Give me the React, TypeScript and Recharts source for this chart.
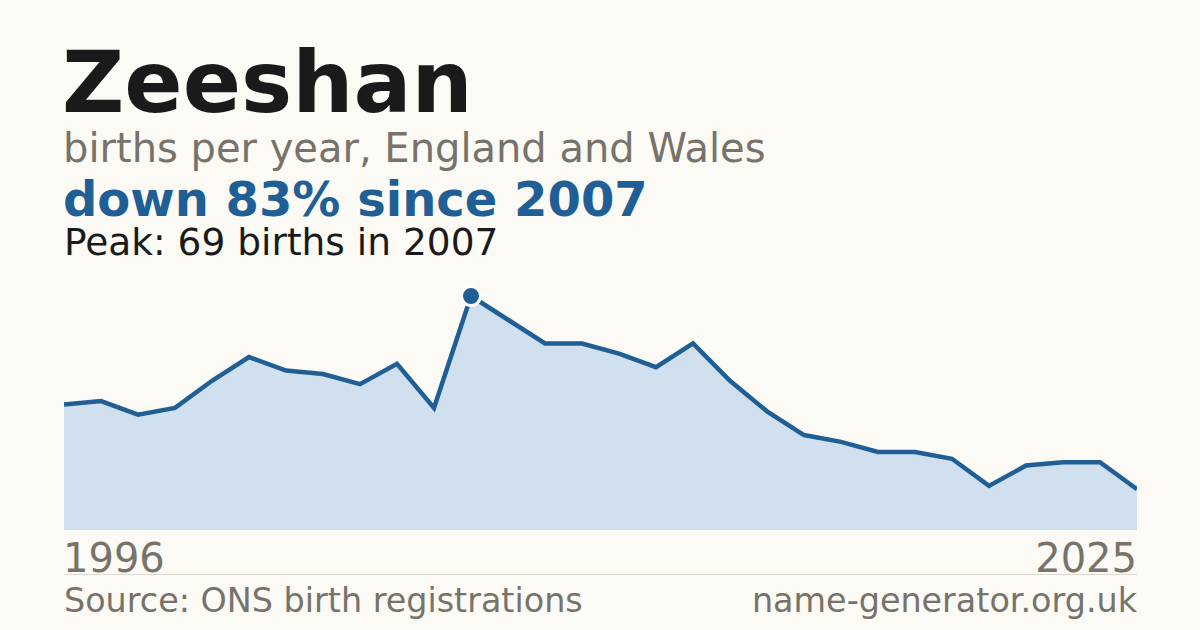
import { AreaChart, Area, XAxis, YAxis, ReferenceLine } from "recharts";

const years = [
  1996, 1997, 1998, 1999, 2000, 2001, 2002, 2003, 2004, 2005, 2006, 2007, 2008, 2009, 2010,
  2011, 2012, 2013, 2014, 2015, 2016, 2017, 2018, 2019, 2020, 2021, 2022, 2023, 2024, 2025,
];
const births = [
  37, 38, 34, 36, 44, 51, 47, 46, 43, 49, 36, 69, 62, 55, 55,
  52, 48, 55, 44, 35, 28, 26, 23, 23, 21, 13, 19, 20, 20, 12,
];
const peakYear = 2007;
const peakValue = 69;

const data = years.map((year, i) => ({ year, births: births[i] }));

const FONT = "'DejaVu Sans', sans-serif";
const BLUE = "#1f5f96";
const GREY = "#77736b";

// only the peak year gets a marker
function PeakDot(props: any) {
  const { cx, cy, payload, index } = props;
  if (!payload || payload.year !== peakYear) return <g key={index} />;
  return <circle key={index} cx={cx} cy={cy} r={9.5} fill={BLUE} stroke="#ffffff" strokeWidth={3} />;
}

export default function App() {
  return (
    <div
      style={{
        position: "fixed",
        top: 0,
        left: 0,
        width: 1200,
        height: 630,
        background: "#fbfaf5",
        fontFamily: FONT,
        overflow: "hidden",
      }}
    >
      <div style={{ position: "absolute", left: 62, top: 39, fontSize: 86, fontWeight: 700, color: "#1a1a1a", lineHeight: "86px", whiteSpace: "nowrap" }}>
        Zeeshan
      </div>
      <div style={{ position: "absolute", left: 63, top: 126, fontSize: 40, color: GREY, lineHeight: "44px", whiteSpace: "nowrap" }}>
        births per year, England and Wales
      </div>
      <div style={{ position: "absolute", left: 63, top: 174.5, fontSize: 48, fontWeight: 700, color: BLUE, lineHeight: "48px", whiteSpace: "nowrap" }}>
        down 83% since 2007
      </div>
      <div style={{ position: "absolute", left: 64, top: 223, fontSize: 37.5, color: "#1a1a1a", lineHeight: "38px", whiteSpace: "nowrap" }}>
        Peak: 69 births in 2007
      </div>

      <div style={{ position: "absolute", left: 64, top: 286 }}>
        <AreaChart width={1073} height={244} data={data} margin={{ top: 10, right: 0, bottom: 0, left: 0 }}>
          <XAxis dataKey="year" type="number" domain={["dataMin", "dataMax"]} hide />
          <YAxis domain={[0, peakValue]} hide />
          <ReferenceLine y={0} stroke="#dcd9d0" strokeWidth={1} />
          <Area
            type="linear"
            dataKey="births"
            stroke={BLUE}
            strokeWidth={4.5}
            fill="#d0e0ef"
            fillOpacity={1}
            dot={PeakDot}
            activeDot={false}
            isAnimationActive={false}
          />
        </AreaChart>
      </div>

      <div style={{ position: "absolute", left: 63, top: 536, fontSize: 40, color: GREY, lineHeight: "44px" }}>
        1996
      </div>
      <div style={{ position: "absolute", right: 63, top: 536, fontSize: 40, color: GREY, lineHeight: "44px" }}>
        2025
      </div>
      <div style={{ position: "absolute", left: 64, top: 574, width: 1073, height: 1, background: "#dcd9d0" }} />
      <div style={{ position: "absolute", left: 64, top: 581, fontSize: 33.4, color: GREY, lineHeight: "40px", whiteSpace: "nowrap" }}>
        Source: ONS birth registrations
      </div>
      <div style={{ position: "absolute", right: 63, top: 581, fontSize: 33.4, color: GREY, lineHeight: "40px", whiteSpace: "nowrap" }}>
        name-generator.org.uk
      </div>
    </div>
  );
}
